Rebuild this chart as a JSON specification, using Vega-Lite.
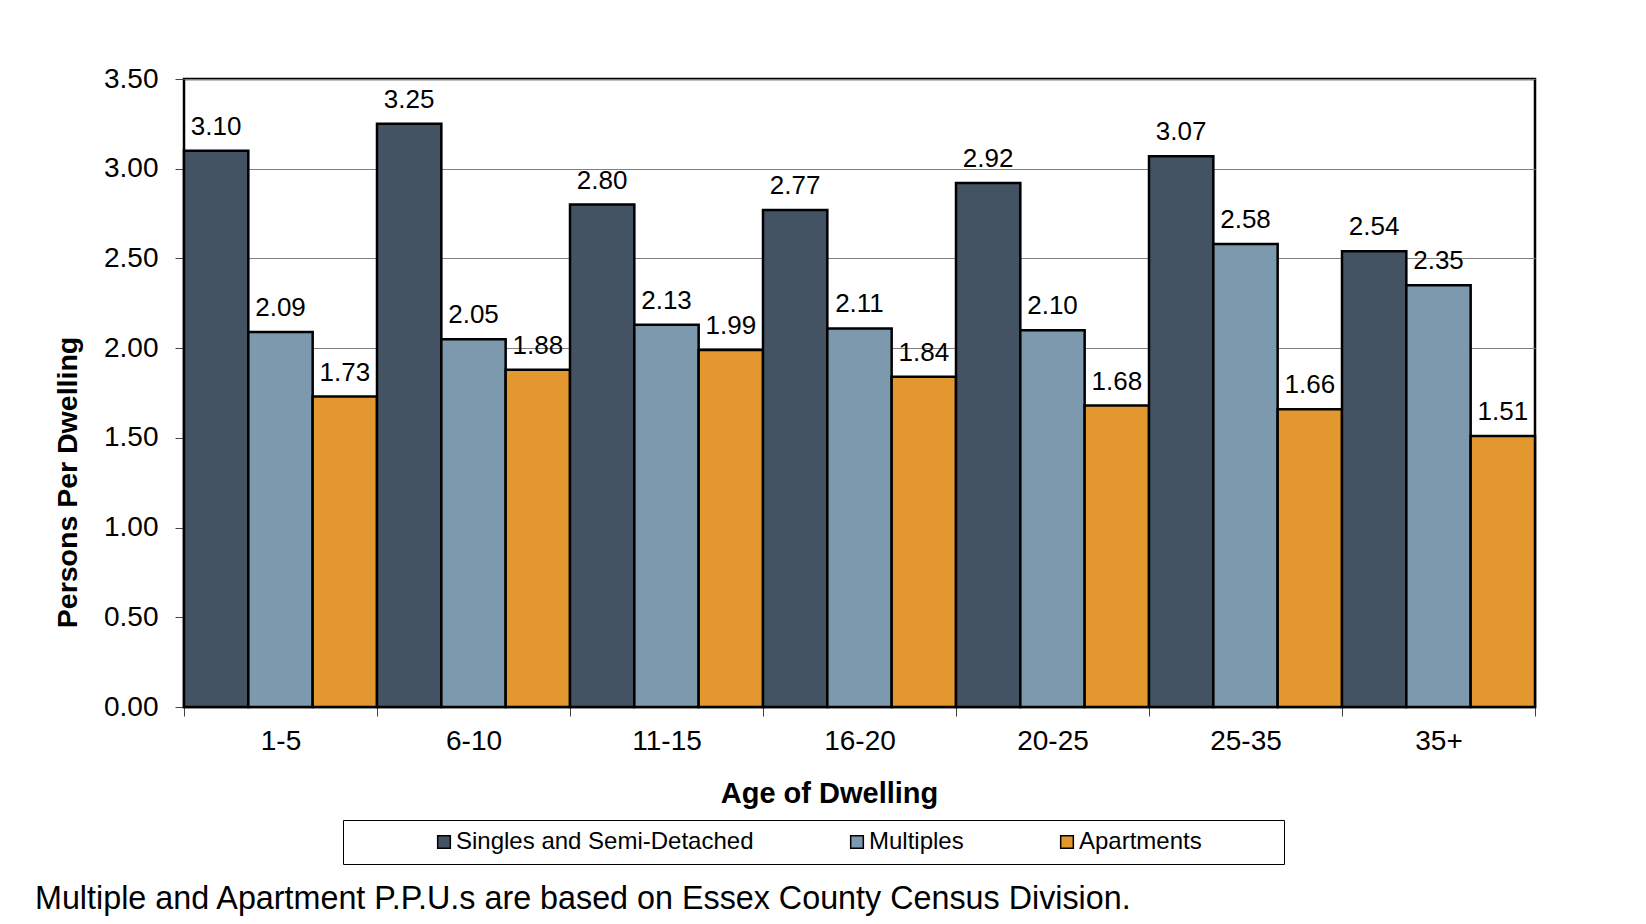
{
  "$schema": "https://vega.github.io/schema/vega-lite/v6.json",
  "width": 1351,
  "height": 628,
  "autosize": {"type": "none"},
  "padding": {"left": 184, "top": 79, "right": 111, "bottom": 217},
  "background": "white",
  "config": {
    "font": "Liberation Sans",
    "view": {"stroke": "black", "strokeWidth": 2.5}
  },
  "title": {
    "text": "Multiple and Apartment P.P.U.s are based on Essex County Census Division.",
    "orient": "bottom",
    "anchor": "start",
    "frame": "group",
    "dx": -149,
    "offset": 18,
    "font": "Liberation Sans",
    "fontSize": 32.3,
    "fontWeight": "normal",
    "color": "black"
  },
  "data": {
    "values": [
      {"age": "1-5", "type": "Singles and Semi-Detached", "ppu": 3.10},
      {"age": "1-5", "type": "Multiples", "ppu": 2.09},
      {"age": "1-5", "type": "Apartments", "ppu": 1.73},
      {"age": "6-10", "type": "Singles and Semi-Detached", "ppu": 3.25},
      {"age": "6-10", "type": "Multiples", "ppu": 2.05},
      {"age": "6-10", "type": "Apartments", "ppu": 1.88},
      {"age": "11-15", "type": "Singles and Semi-Detached", "ppu": 2.80},
      {"age": "11-15", "type": "Multiples", "ppu": 2.13},
      {"age": "11-15", "type": "Apartments", "ppu": 1.99},
      {"age": "16-20", "type": "Singles and Semi-Detached", "ppu": 2.77},
      {"age": "16-20", "type": "Multiples", "ppu": 2.11},
      {"age": "16-20", "type": "Apartments", "ppu": 1.84},
      {"age": "20-25", "type": "Singles and Semi-Detached", "ppu": 2.92},
      {"age": "20-25", "type": "Multiples", "ppu": 2.10},
      {"age": "20-25", "type": "Apartments", "ppu": 1.68},
      {"age": "25-35", "type": "Singles and Semi-Detached", "ppu": 3.07},
      {"age": "25-35", "type": "Multiples", "ppu": 2.58},
      {"age": "25-35", "type": "Apartments", "ppu": 1.66},
      {"age": "35+", "type": "Singles and Semi-Detached", "ppu": 2.54},
      {"age": "35+", "type": "Multiples", "ppu": 2.35},
      {"age": "35+", "type": "Apartments", "ppu": 1.51}
    ]
  },
  "encoding": {
    "x": {
      "field": "age",
      "type": "nominal",
      "sort": ["1-5", "6-10", "11-15", "16-20", "20-25", "25-35", "35+"],
      "scale": {"paddingInner": 0, "paddingOuter": 0},
      "axis": {
        "title": "Age of Dwelling",
        "titleFont": "Liberation Sans",
        "titleFontSize": 29,
        "titleFontWeight": "bold",
        "titleColor": "black",
        "titleX": 645,
        "titleY": 72,
        "titleBaseline": "top",
        "labelFont": "Liberation Sans",
        "labelFontSize": 28,
        "labelColor": "black",
        "labelAngle": 0,
        "labelPadding": 11,
        "domain": false,
        "tickBand": "extent",
        "tickSize": 9,
        "tickColor": "#444",
        "tickWidth": 1
      }
    },
    "xOffset": {
      "field": "type",
      "type": "nominal",
      "sort": ["Singles and Semi-Detached", "Multiples", "Apartments"],
      "scale": {"paddingInner": 0, "paddingOuter": 0}
    },
    "y": {
      "field": "ppu",
      "type": "quantitative",
      "scale": {"domain": [0, 3.5], "nice": false},
      "axis": {
        "title": "Persons Per Dwelling",
        "titleFont": "Liberation Sans",
        "titleFontSize": 28.5,
        "titleFontWeight": "bold",
        "titleColor": "black",
        "titleX": -102,
        "titleY": 403,
        "values": [0, 0.5, 1, 1.5, 2, 2.5, 3, 3.5],
        "format": ".2f",
        "labelFont": "Liberation Sans",
        "labelFontSize": 28,
        "labelColor": "black",
        "labelPadding": 17,
        "domain": false,
        "tickSize": 9,
        "tickColor": "#444",
        "tickWidth": 1,
        "grid": true,
        "gridColor": "#808080",
        "gridWidth": 1
      }
    }
  },
  "layer": [
    {
      "mark": {"type": "bar", "stroke": "black", "strokeWidth": 2.5},
      "encoding": {
        "color": {
          "field": "type",
          "type": "nominal",
          "sort": ["Singles and Semi-Detached", "Multiples", "Apartments"],
          "scale": {
            "domain": ["Singles and Semi-Detached", "Multiples", "Apartments"],
            "range": ["#435363", "#7d99ae", "#e3982f"]
          },
          "legend": {
            "orient": "none",
            "legendX": 159,
            "legendY": 741,
            "direction": "horizontal",
            "title": " ",
            "titleOrient": "left",
            "titlePadding": 79,
            "titleFontSize": 24,
            "strokeColor": "black",
            "padding": 10,
            "symbolType": "square",
            "symbolSize": 160,
            "symbolStrokeColor": "black",
            "symbolStrokeWidth": 1.5,
            "symbolOpacity": 1,
            "labelFont": "Liberation Sans",
            "labelFontSize": 24,
            "labelColor": "black",
            "labelLimit": 600,
            "labelOffset": 0,
            "columnPadding": 91,
            "labelExpr": "datum.label == 'Apartments' ? 'Apartments\u2800\u2800\u2800\u2800' : datum.label"
          }
        }
      }
    },
    {
      "mark": {
        "type": "text",
        "baseline": "alphabetic",
        "dy": -16,
        "font": "Liberation Sans",
        "fontSize": 26,
        "color": "black"
      },
      "encoding": {
        "text": {"field": "ppu", "type": "quantitative", "format": ".2f"}
      }
    }
  ]
}
